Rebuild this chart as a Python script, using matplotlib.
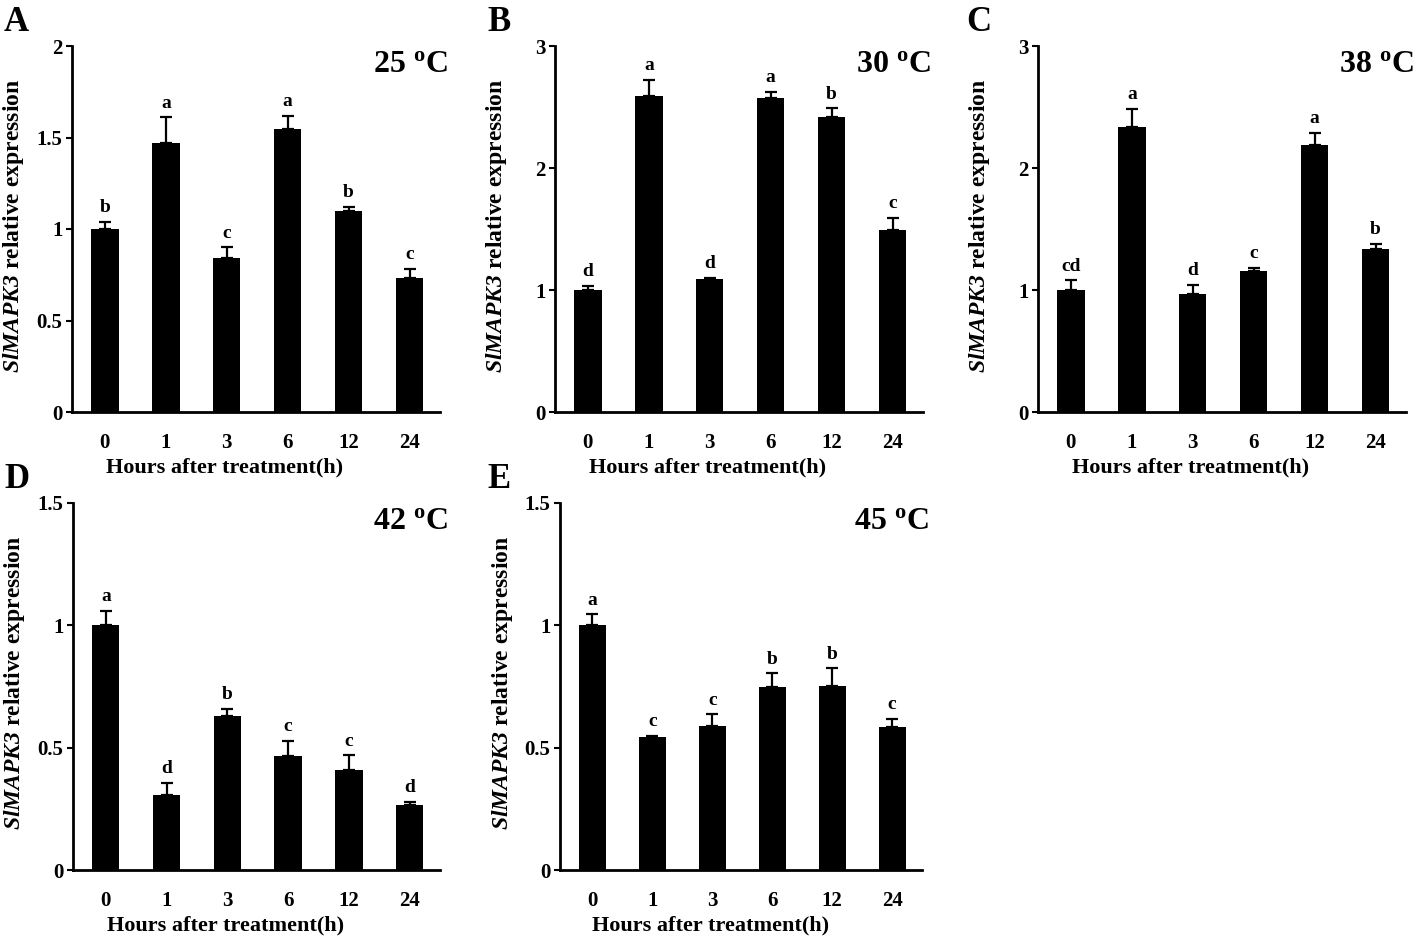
import matplotlib
matplotlib.use("Agg")
import matplotlib.pyplot as plt
from matplotlib.ticker import FuncFormatter

plt.rcParams['font.family'] = ['Liberation Serif', 'DejaVu Serif']
plt.rcParams['font.weight'] = 'bold'
plt.rcParams['mathtext.fontset'] = 'custom'
plt.rcParams['mathtext.rm'] = 'Liberation Serif:bold'
plt.rcParams['mathtext.bf'] = 'Liberation Serif:bold'
plt.rcParams['mathtext.it'] = 'Liberation Serif:italic:bold'
plt.rcParams['mathtext.bfit'] = 'Liberation Serif:italic:bold'

hours = ['0', '1', '3', '6', '12', '24']

vals_25 = [1.00, 1.47, 0.84, 1.545, 1.10, 0.73]
err_25 = [0.04, 0.14, 0.06, 0.075, 0.02, 0.053]
let_25 = ['b', 'a', 'c', 'a', 'b', 'c']

vals_30 = [1.00, 2.59, 1.09, 2.575, 2.42, 1.49]
err_30 = [0.035, 0.135, 0.01, 0.05, 0.07, 0.10]
let_30 = ['d', 'a', 'd', 'a', 'b', 'c']

vals_38 = [1.00, 2.335, 0.965, 1.153, 2.19, 1.34]
err_38 = [0.08, 0.15, 0.08, 0.027, 0.10, 0.04]
let_38 = ['cd', 'a', 'd', 'c', 'a', 'b']

vals_42 = [1.00, 0.306, 0.629, 0.464, 0.409, 0.265]
err_42 = [0.06, 0.05, 0.03, 0.065, 0.06, 0.013]
let_42 = ['a', 'd', 'b', 'c', 'c', 'd']

vals_45 = [1.00, 0.542, 0.587, 0.748, 0.752, 0.583]
err_45 = [0.045, 0.007, 0.05, 0.056, 0.072, 0.034]
let_45 = ['a', 'c', 'c', 'b', 'b', 'c']

temps = ['25', '30', '38', '42', '45']
panel_letters = ['A', 'B', 'C', 'D', 'E']
ymaxes = [2, 3, 3, 1.5, 1.5]
ysteps = [0.5, 1, 1, 0.5, 0.5]

W, H = 1418, 943
fig = plt.figure(figsize=(W / 100, H / 100), dpi=100)

# axes boxes in pixels: left, right, top, bottom
boxes = [(72, 440, 46, 412), (555, 923, 46, 412), (1038, 1406, 46, 412),
         (73, 440, 503, 870), (560, 922, 503, 870)]
letter_pos = [(4, 6), (487, 6), (966, 6), (4, 463), (487, 463)]

data = [(vals_25, err_25, let_25), (vals_30, err_30, let_30), (vals_38, err_38, let_38),
        (vals_42, err_42, let_42), (vals_45, err_45, let_45)]

fmt = FuncFormatter(lambda v, p: ('%g' % v))

for i, (vals, errs, lets) in enumerate(data):
    l, r, t, b = boxes[i]
    ax = fig.add_axes([l / W, 1 - b / H, (r - l) / W, (b - t) / H])
    x = list(range(len(hours)))
    ax.bar(x, vals, width=0.45, color='black', zorder=2)
    ax.errorbar(x, vals, yerr=[[0] * len(errs), errs], fmt='none', ecolor='black',
                elinewidth=1.6, capsize=4, capthick=1.6, zorder=3)
    for xi, v, e, lt in zip(x, vals, errs, lets):
        ax.annotate(lt, (xi, v + e), xytext=(0, 4), textcoords='offset points',
                    ha='center', va='bottom', fontsize=14, fontweight='bold')
    ax.set_xlim(-0.54, 5.5)
    ax.set_ylim(0, ymaxes[i])
    n = int(round(ymaxes[i] / ysteps[i]))
    ax.set_yticks([k * ysteps[i] for k in range(n + 1)])
    ax.yaxis.set_major_formatter(fmt)
    ax.set_xticks(x)
    ax.set_xticklabels(hours)
    ax.tick_params(axis='x', length=0, labelsize=15, pad=15)
    ax.tick_params(axis='y', length=4, width=1.5, labelsize=15, pad=3)
    for lab in ax.get_xticklabels() + ax.get_yticklabels():
        lab.set_fontweight('bold')
    for s in ['top', 'right']:
        ax.spines[s].set_visible(False)
    for s in ['left', 'bottom']:
        ax.spines[s].set_linewidth(2)
    ax.set_xlabel('Hours after treatment(h)', fontsize=16, fontweight='bold')
    ax.xaxis.set_label_coords(0.415, -0.124)
    ax.set_ylabel(r'$\mathbfit{SlMAPK3}$ relative expression', fontsize=17, fontweight='bold')
    ax.yaxis.set_label_coords(-0.125, 0.51)
    ax.text(1.02, 0.928, temps[i] + r' $^{\mathbf{o}}$C', transform=ax.transAxes,
            ha='right', va='baseline', fontsize=23, fontweight='bold')
    lx, ly = letter_pos[i]
    fig.text(lx / W, 1 - ly / H, panel_letters[i], ha='left', va='top',
             fontsize=25, fontweight='bold')

fig.savefig('out.png', dpi=100, facecolor='white')
